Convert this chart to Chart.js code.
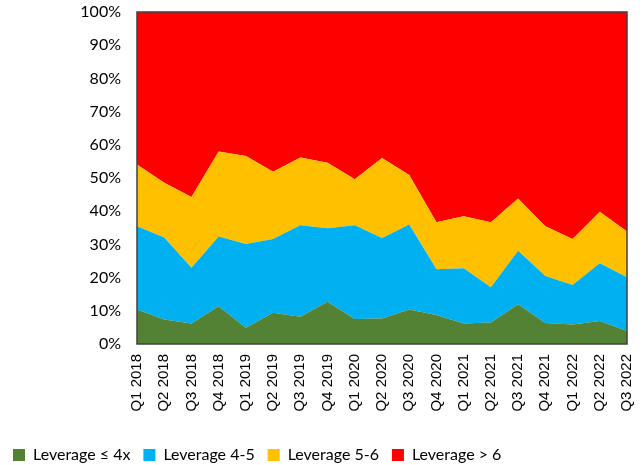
<!DOCTYPE html>
<html>
<head>
<meta charset="utf-8">
<script src="https://cdn.jsdelivr.net/npm/chart.js@4"></script>
<style>
  html, body { margin: 0; padding: 0; background: #fff; }
  #wrap { width: 643px; height: 465px; }
</style>
</head>
<body>
<div id="wrap"><canvas id="chart"></canvas></div>
<script>
const quarters = ['Q1 2018', 'Q2 2018', 'Q3 2018', 'Q4 2018', 'Q1 2019', 'Q2 2019', 'Q3 2019', 'Q4 2019',
    'Q1 2020', 'Q2 2020', 'Q3 2020', 'Q4 2020', 'Q1 2021', 'Q2 2021', 'Q3 2021', 'Q4 2021',
    'Q1 2022', 'Q2 2022', 'Q3 2022'];

// parts in %, each quarter sums to 100
const levUnder4 = [10.4, 7.4, 6.2, 11.4, 4.9, 9.4, 8.2, 12.7, 7.5, 7.7, 10.4, 8.7, 6.2, 6.5, 12.0, 6.3, 5.9, 6.9, 3.9];
const lev4to5 = [25.1, 24.7, 16.8, 21.0, 25.2, 22.2, 27.6, 22.2, 28.3, 24.2, 25.6, 13.8, 16.6, 10.6, 16.1, 14.2, 11.9, 17.4, 16.2];
const lev5to6 = [18.6, 16.5, 21.3, 25.6, 26.5, 20.3, 20.4, 19.7, 13.8, 24.1, 14.9, 14.2, 15.7, 19.6, 15.7, 15.0, 13.8, 15.5, 13.8];
const levOver6 = [45.9, 51.4, 55.7, 42.0, 43.4, 48.1, 43.8, 45.4, 50.4, 44.0, 49.1, 63.3, 61.5, 63.3, 56.2, 64.5, 68.4, 60.2, 66.1];

const yTicks = [0, 10, 20, 30, 40, 50, 60, 70, 80, 90, 100];

function areaSet(label, data, color, fill) {
    return {
        label: label,
        data: data,
        backgroundColor: color,
        borderColor: color,
        borderWidth: 0,
        pointRadius: 0,
        tension: 0,
        fill: fill
    };
}

// border around the plot area
const frame = {
    id: 'frame',
    afterDatasetsDraw(chart) {
        const { ctx, chartArea: a } = chart;
        ctx.save();
        ctx.strokeStyle = '#404040';
        ctx.lineWidth = 1.5;
        ctx.strokeRect(a.left, a.top, a.right - a.left, a.bottom - a.top);
        ctx.restore();
    }
};

new Chart(document.getElementById('chart'), {
    type: 'line',
    data: {
        labels: quarters,
        datasets: [
            areaSet('Leverage \u2264 4x', levUnder4, '#548235', 'origin'),
            areaSet('Leverage 4-5', lev4to5, '#00B0F0', '-1'),
            areaSet('Leverage 5-6', lev5to6, '#FFC000', '-1'),
            areaSet('Leverage > 6', levOver6, '#FF0000', '-1')
        ]
    },
    options: {
        responsive: true,
        maintainAspectRatio: false,
        animation: false,
        layout: { padding: { top: 12, right: 16, left: 0, bottom: -8 } },
        plugins: {
            tooltip: { enabled: false },
            legend: {
                position: 'bottom',
                align: 'start',
                labels: {
                    boxWidth: 12,
                    boxHeight: 12,
                    padding: 13,
                    color: '#000',
                    font: { family: 'Lato', size: 16 }
                }
            }
        },
        scales: {
            x: {
                grid: { display: false, drawTicks: false },
                border: { display: false },
                ticks: {
                    minRotation: 90,
                    maxRotation: 90,
                    padding: 10,
                    color: '#000',
                    font: { family: 'Liberation Sans', size: 15 }
                },
                afterFit(scale) {
                    scale.height = 90;
                    scale.paddingLeft = 0;
                    scale.paddingRight = 0;
                }
            },
            y: {
                stacked: true,
                min: 0,
                max: 100,
                grid: { display: false, drawTicks: false },
                border: { display: false },
                afterBuildTicks(scale) { scale.ticks = yTicks.map(v => ({ value: v })); },
                afterFit(scale) {
                    scale.width = 137;
                    scale.paddingTop = 0;
                    scale.paddingBottom = 0;
                },
                ticks: {
                    padding: 16,
                    color: '#000',
                    font: { family: 'Lato', size: 16 },
                    callback: v => v + '%'
                }
            }
        }
    },
    plugins: [frame]
});
</script>
</body>
</html>
